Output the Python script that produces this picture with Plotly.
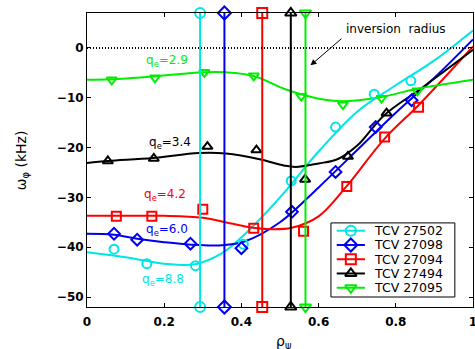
import plotly.graph_objects as go

# ---------------- data ----------------
names = ["TCV 27502", "TCV 27098", "TCV 27094", "TCV 27494", "TCV 27095"]
colors = ["#00e5e5", "#0000ee", "#ff0000", "#000000", "#00ee00"]
symbols = ["circle-open", "diamond-open", "square-open", "triangle-up-open", "triangle-down-open"]

# measured points
cyan_x = [0.07, 0.155, 0.281, 0.405, 0.529, 0.644, 0.744, 0.839]
cyan_y = [-40.4, -43.3, -43.7, -39.4, -26.7, -15.9, -9.3, -6.6]
blue_x = [0.07, 0.130, 0.268, 0.400, 0.531, 0.644, 0.748, 0.841]
blue_y = [-37.3, -38.5, -39.3, -40.2, -32.9, -24.9, -15.9, -10.5]
red_x = [0.076, 0.168, 0.300, 0.432, 0.561, 0.673, 0.771, 0.859]
red_y = [-33.8, -33.8, -32.4, -36.2, -36.8, -27.8, -17.9, -11.9]
black_x = [0.054, 0.173, 0.312, 0.439, 0.565, 0.676, 0.776]
black_y = [-22.7, -22.2, -19.8, -20.5, -26.4, -21.8, -13.1]
green_x = [0.064, 0.176, 0.304, 0.432, 0.555, 0.663, 0.763, 0.856]
green_y = [-6.4, -6.0, -4.9, -5.6, -9.7, -11.4, -10.1, -8.6]

# fitted profiles
cyan_fx = [0, 0.1, 0.2, 0.28, 0.35, 0.41, 0.5, 0.6, 0.7, 0.8, 0.9, 1.0]
cyan_fy = [-41.0, -42.0, -43.3, -43.4, -41.2, -37.3, -30.0, -20.8, -12.8, -7.5, -2.5, 3.5]
blue_fx = [0, 0.07, 0.13, 0.2, 0.27, 0.35, 0.41, 0.5, 0.6, 0.7, 0.8, 0.9, 1.0]
blue_fy = [-37.3, -37.5, -38.3, -39.0, -39.5, -39.6, -38.8, -35.0, -28.0, -20.5, -13.0, -6.0, 1.7]
red_fx = [0, 0.1, 0.2, 0.3, 0.37, 0.43, 0.48, 0.53, 0.6, 0.67, 0.77, 0.86, 1.0]
red_fy = [-33.7, -33.7, -33.7, -34.1, -35.2, -36.1, -36.4, -36.1, -33.8, -28.0, -18.3, -11.4, 0.3]
black_fx = [0, 0.055, 0.17, 0.29, 0.36, 0.45, 0.51, 0.54, 0.6, 0.65, 0.7, 0.77, 0.87, 1.0]
black_fy = [-23.1, -22.7, -22.1, -21.1, -21.2, -22.4, -23.6, -23.9, -23.2, -22.3, -19.6, -13.5, -7.9, -0.4]
green_fx = [0, 0.064, 0.177, 0.3, 0.36, 0.43, 0.51, 0.55, 0.6, 0.66, 0.76, 0.85, 1.0]
green_fy = [-6.4, -6.3, -5.7, -4.9, -4.9, -5.6, -8.2, -9.2, -10.2, -10.7, -9.9, -8.3, -6.4]

# inversion radii (vertical lines)
inv_x = [0.293, 0.356, 0.454, 0.528, 0.566]
y_span = [7, -52]

q_labels = ["q<sub>e</sub>=8.8", "q<sub>e</sub>=6.0", "q<sub>e</sub>=4.2", "q<sub>e</sub>=3.4", "q<sub>e</sub>=2.9"]
q_pos_x = [0.197, 0.207, 0.202, 0.216, 0.208]
q_pos_y = [-46.6, -36.6, -29.5, -19.1, -2.6]

x_ticks = [0, 0.2, 0.4, 0.6, 0.8, 1]
x_tick_labels = ["0", "0.2", "0.4", "0.6", "0.8", "1"]
y_ticks = [0, -10, -20, -30, -40, -50]

pts = [(cyan_x, cyan_y), (blue_x, blue_y), (red_x, red_y), (black_x, black_y), (green_x, green_y)]
fits = [(cyan_fx, cyan_fy), (blue_fx, blue_fy), (red_fx, red_fy), (black_fx, black_fy), (green_fx, green_fy)]

fig = go.Figure()

for i in range(5):
    fig.add_trace(go.Scatter(x=fits[i][0], y=fits[i][1], mode="lines",
                             line=dict(color=colors[i], width=2, shape="spline", smoothing=1.0),
                             showlegend=False, hoverinfo="skip"))
for i in range(5):
    fig.add_trace(go.Scatter(x=pts[i][0], y=pts[i][1], mode="markers", name=names[i],
                             marker=dict(symbol=symbols[i], color=colors[i], size=9,
                                         line=dict(width=2, color=colors[i])),
                             showlegend=False))
for i in range(5):
    fig.add_trace(go.Scatter(x=[inv_x[i], inv_x[i]], y=y_span, mode="lines+markers", name=names[i],
                             line=dict(color=colors[i], width=2),
                             marker=dict(symbol=symbols[i], color=colors[i], size=10,
                                         line=dict(width=2, color=colors[i])),
                             cliponaxis=False, showlegend=False))

# dotted zero line
fig.add_shape(type="line", x0=0, x1=1, y0=0, y1=0, xref="x", yref="y",
              line=dict(color="black", width=2, dash="1px,2px"))

for i in range(5):
    fig.add_annotation(x=q_pos_x[i], y=q_pos_y[i], text=q_labels[i], showarrow=False,
                       font=dict(family="DejaVu Sans", size=12, color=colors[i]))

fig.add_annotation(x=0.8, y=3.7, text="inversion  radius", showarrow=False,
                   font=dict(family="DejaVu Sans", size=12, color="black"))
fig.add_annotation(x=0.579, y=-3.5, ax=0.663, ay=2.1, axref="x", ayref="y", xref="x", yref="y",
                   text="", showarrow=True, arrowhead=2, arrowsize=1.2, arrowwidth=1, arrowcolor="black")

# ---- hand-drawn legend (compact row spacing as in the reference) ----
leg_box = dict(x0=0.632, x1=0.953, y0=0.034, y1=0.286)
leg_y0, leg_dy = 0.2595, 0.0485
leg_lx0, leg_lx1, leg_mx, leg_tx = 0.647, 0.720, 0.6835, 0.738
fig.add_shape(type="rect", xref="paper", yref="paper", layer="below",
              line=dict(color="black", width=1), fillcolor="white", **leg_box)
for i in range(5):
    yy = leg_y0 - i * leg_dy
    fig.add_trace(go.Scatter(x=[leg_lx0, leg_lx1], y=[yy, yy], mode="lines", xaxis="x2", yaxis="y2",
                             line=dict(color=colors[i], width=2), showlegend=False, hoverinfo="skip"))
    fig.add_trace(go.Scatter(x=[leg_mx], y=[yy], mode="markers", xaxis="x2", yaxis="y2",
                             marker=dict(symbol=symbols[i], color=colors[i], size=10,
                                         line=dict(width=2, color=colors[i])),
                             showlegend=False, hoverinfo="skip"))
    fig.add_annotation(x=leg_tx, y=yy, xref="paper", yref="paper", text=names[i], showarrow=False,
                       xanchor="left", yanchor="middle",
                       font=dict(family="DejaVu Sans", size=12.5, color="black"))

# axis titles
fig.add_annotation(x=-0.168, y=0.5, xref="paper", yref="paper", text="ω<sub>φ</sub> (kHz)",
                   textangle=-90, showarrow=False, xanchor="center", yanchor="middle",
                   font=dict(family="DejaVu Sans", size=14, color="black"))
fig.add_annotation(x=0.51, y=-0.118, xref="paper", yref="paper", text="ρ<sub>ψ</sub>",
                   showarrow=False, xanchor="center", yanchor="middle",
                   font=dict(family="DejaVu Sans", size=14, color="black"))

fig.update_layout(
    width=475, height=349,
    margin=dict(l=87, r=2, t=13, b=42),
    paper_bgcolor="white", plot_bgcolor="white",
    font=dict(family="DejaVu Sans", size=12, color="black"),
    showlegend=False,
    hovermode=False,
    xaxis=dict(range=[0, 1], tickvals=x_ticks, ticktext=x_tick_labels,
               ticks="inside", ticklen=4, tickcolor="black", showline=True, linecolor="black",
               linewidth=1, mirror="ticks", showgrid=False, zeroline=False, automargin=False,
               ticklabelstandoff=4, ticklabeloverflow="allow",
               tickfont=dict(family="DejaVu Sans", size=12, weight="bold")),
    yaxis=dict(range=[-52, 7], tickvals=y_ticks,
               ticks="inside", ticklen=4, tickcolor="black", showline=True, linecolor="black",
               linewidth=1, mirror="ticks", showgrid=False, zeroline=False, automargin=False,
               ticklabeloverflow="allow",
               tickfont=dict(family="DejaVu Sans", size=12, weight="bold")),
    xaxis2=dict(overlaying="x", range=[0, 1], visible=False, anchor="y2"),
    yaxis2=dict(overlaying="y", range=[0, 1], visible=False, anchor="x2"),
)

fig.write_html("out.html", config={"displayModeBar": False, "staticPlot": True},
               post_script="document.body.style.margin='0';")
